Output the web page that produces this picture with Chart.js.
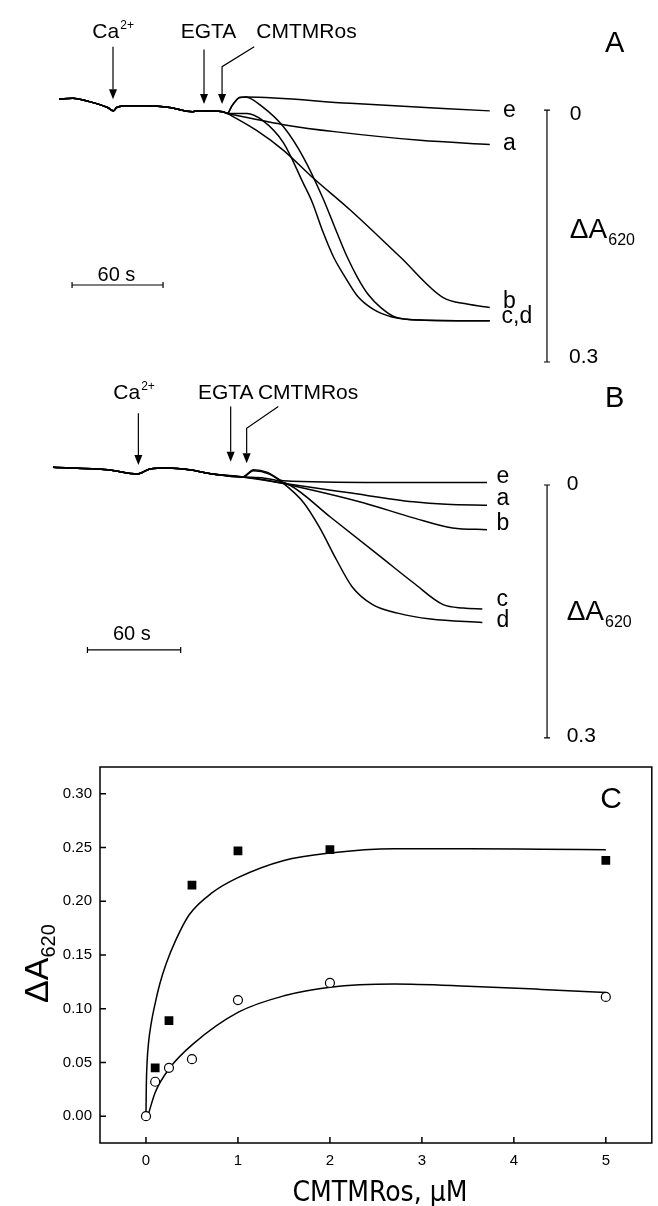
<!DOCTYPE html>
<html>
<head>
<meta charset="utf-8">
<script src="https://cdn.jsdelivr.net/npm/chart.js@4/dist/chart.umd.min.js"></script>
<style>
  html, body { margin: 0; padding: 0; background: #fff; }
  body { width: 658px; height: 1206px; position: relative; overflow: hidden; }
  canvas { position: absolute; left: 0; }
  #chart-a { top: 0; }
  #chart-b { top: 370px; }
  #chart-c { top: 750px; }
</style>
</head>
<body>
<canvas id="chart-a" width="658" height="370"></canvas>
<canvas id="chart-b" width="658" height="380"></canvas>
<canvas id="chart-c" width="658" height="456"></canvas>
<script>
// ===== DATA =====
// Panel A traces: time (s), change in A620 (0 = top of the scale bar, positive = down)
const A_BASE_T = [0, 9, 20, 32, 36, 38, 45, 58, 73, 88, 92, 108, 111];
const A_BASE = [-0.013, -0.014, -0.010, -0.003, 0.001, -0.003, -0.005, -0.005, -0.003, 0.002, 0.001, 0.002, 0.004];
const A_E_T = [114, 117, 119, 123, 192, 284];
const A_E = [-0.005, -0.012, -0.015, -0.0155, -0.008, 0.001];
const A_A_T = [116, 150, 183, 238, 284];
const A_A = [0.006, 0.018, 0.026, 0.036, 0.041];
const A_B_T = [113, 130, 148, 167, 192, 225, 253, 269, 284];
const A_B = [0.006, 0.024, 0.048, 0.080, 0.119, 0.175, 0.223, 0.231, 0.235];
const A_C_T = [113, 124, 134, 148, 161, 167, 174, 181, 189, 197, 207, 219, 238, 284];
const A_C = [0.004, 0.004, 0.012, 0.039, 0.087, 0.110, 0.145, 0.175, 0.200, 0.222, 0.237, 0.246, 0.250, 0.251];
const A_D_T = [114, 117, 119, 123, 134, 148, 161, 174, 183, 190, 197, 204, 212, 221, 238, 284];
const A_D = [-0.005, -0.012, -0.015, -0.0155, -0.004, 0.020, 0.056, 0.105, 0.145, 0.175, 0.200, 0.220, 0.235, 0.246, 0.250, 0.251];

// Panel B traces
const B_BASE_T = [0, 35, 54, 62, 73, 87, 102, 121];
const B_BASE = [-0.021, -0.018, -0.013, -0.019, -0.020, -0.018, -0.013, -0.0095];
const B_E_T = [128, 137, 147, 209, 277];
const B_E = [-0.018, -0.015, -0.005, -0.003, -0.003];
const B_A_T = [147, 188, 230, 251, 277];
const B_A = [-0.002, 0.009, 0.020, 0.023, 0.024];
const B_B_T = [132, 156, 198, 230, 255, 277];
const B_B = [-0.007, 0.002, 0.021, 0.039, 0.051, 0.053];
const B_C_T = [135, 151, 177, 209, 230, 249, 262, 274];
const B_C = [-0.008, 0.000, 0.038, 0.085, 0.116, 0.142, 0.146, 0.147];
const B_D_T = [128, 138, 147, 160, 170, 181, 191, 204, 220, 241, 274];
const B_D = [-0.017, -0.013, -0.002, 0.021, 0.050, 0.089, 0.121, 0.142, 0.152, 0.159, 0.163];

// Panel C: dose response
const C_CONC = [0, 0.1, 0.25, 0.5, 1, 2, 5];
const C_FILLED = [null, 0.045, 0.089, 0.215, 0.247, 0.248, 0.238];
const C_OPEN = [0, 0.032, 0.045, 0.053, 0.108, 0.124, 0.111];
const C_FIT_HI_X = [0, 0.003, 0.012, 0.03, 0.06, 0.1, 0.15, 0.22, 0.33, 0.47, 0.72, 1.0, 1.5, 2.0, 2.7, 3.5, 4.3, 5.0];
const C_FIT_HI = [0, 0.025, 0.05, 0.07, 0.088, 0.105, 0.123, 0.142, 0.165, 0.1875, 0.208, 0.222, 0.238, 0.245, 0.249, 0.249, 0.2485, 0.248];
const C_FIT_LO_X = [0.02, 0.1, 0.26, 0.51, 1.01, 1.5, 2.0, 2.7, 3.5, 4.3, 5.0];
const C_FIT_LO = [0, 0.022, 0.045, 0.067, 0.097, 0.112, 0.12, 0.123, 0.121, 0.118, 0.115];
const C_XTICKS = [0, 1, 2, 3, 4, 5];
const C_YTICKS = [0, 0.05, 0.10, 0.15, 0.20, 0.25, 0.30];

// ===== HELPERS =====
const FONT = '"Liberation Sans", Arial, sans-serif';
const NARROW = '"Liberation Sans Narrow", "DejaVu Sans Condensed", "Liberation Sans", Arial, sans-serif';
const pts = (xs, ys) => xs.map((x, i) => ({ x, y: ys[i] }));
const join = (bt, b, t, v) => pts(bt, b).concat(pts(t, v));

function drawArrow(ctx, path) {
  const n = path.length;
  const [tx, ty] = path[n - 1];
  const [px, py] = path[n - 2];
  const ang = Math.atan2(ty - py, tx - px);
  const len = 10, half = 4;
  const bx = tx - len * Math.cos(ang), by = ty - len * Math.sin(ang);
  ctx.beginPath();
  ctx.moveTo(path[0][0], path[0][1]);
  for (let i = 1; i < n - 1; i++) ctx.lineTo(path[i][0], path[i][1]);
  ctx.lineTo(bx, by);
  ctx.stroke();
  ctx.beginPath();
  ctx.moveTo(tx, ty);
  ctx.lineTo(bx - half * Math.sin(ang), by + half * Math.cos(ang));
  ctx.lineTo(bx + half * Math.sin(ang), by - half * Math.cos(ang));
  ctx.closePath();
  ctx.fill();
}

function drawLabel(ctx, x, y, l) {
  ctx.textBaseline = 'alphabetic';
  ctx.textAlign = 'left';
  ctx.font = `${l.size}px ${l.font || FONT}`;
  const w = ctx.measureText(l.text).width;
  ctx.fillText(l.text, x, y);
  const small = l.sup || l.sub;
  if (small) {
    ctx.font = `${l.small}px ${l.font || FONT}`;
    ctx.fillText(small, x + w + 1, y + (l.sup ? -l.size * 0.45 : l.size * 0.25));
  }
}

function drawNotes(chart, n) {
  const { ctx } = chart;
  const X = v => chart.scales.x.getPixelForValue(v);
  const Y = v => chart.scales.y.getPixelForValue(v);
  ctx.save();
  ctx.strokeStyle = '#000';
  ctx.fillStyle = '#000';
  ctx.lineWidth = 1.2;
  n.arrows.forEach(a => drawArrow(ctx, a.map(([t, v]) => [X(t), Y(v)])));
  // absorbance scale bar
  const sx = X(n.scaleBar.t), s0 = Y(0), s1 = Y(0.3);
  ctx.beginPath();
  ctx.moveTo(sx, s0); ctx.lineTo(sx, s1);
  ctx.moveTo(sx - 3, s0); ctx.lineTo(sx + 3, s0);
  ctx.moveTo(sx - 3, s1); ctx.lineTo(sx + 3, s1);
  ctx.stroke();
  // time bar
  const tb = n.timeBar, ty = Y(tb.v), t0 = X(tb.from), t1 = X(tb.to);
  ctx.beginPath();
  ctx.moveTo(t0, ty); ctx.lineTo(t1, ty);
  ctx.moveTo(t0, ty - 3); ctx.lineTo(t0, ty + 3);
  ctx.moveTo(t1, ty - 3); ctx.lineTo(t1, ty + 3);
  ctx.stroke();
  n.labels.forEach(l => drawLabel(ctx, X(l.t), Y(l.v), l));
  ctx.restore();
}

function traceChart(id, xRange, yRange, traces, notes) {
  return new Chart(document.getElementById(id), {
    type: 'scatter',
    data: {
      datasets: traces.map(tr => ({
        data: tr, showLine: true, borderColor: '#000', borderWidth: 1.5,
        pointRadius: 0, cubicInterpolationMode: 'monotone'
      }))
    },
    options: {
      responsive: false, animation: false, events: [],
      layout: { padding: 0 },
      plugins: { legend: { display: false }, tooltip: { enabled: false } },
      scales: {
        x: { type: 'linear', display: false, min: xRange[0], max: xRange[1] },
        y: { type: 'linear', display: false, reverse: true, min: yRange[0], max: yRange[1] }
      }
    },
    plugins: [{ id: 'notes', afterDraw: c => drawNotes(c, notes) }]
  });
}

// ===== PANEL A =====
traceChart('chart-a', [-38.9, 394.9], [-0.131, 0.3095], [
  join(A_BASE_T, A_BASE, A_E_T, A_E),
  join(A_BASE_T, A_BASE, A_A_T, A_A),
  join(A_BASE_T, A_BASE, A_B_T, A_B),
  join(A_BASE_T, A_BASE, A_C_T, A_C),
  join(A_BASE_T, A_BASE, A_D_T, A_D)
], {
  arrows: [
    [[35.6, -0.0754], [35.6, -0.0127]],
    [[95.6, -0.0722], [95.6, -0.0071]],
    [[128.7, -0.0754], [107.5, -0.0516], [107.5, -0.0071]]
  ],
  scaleBar: { t: 321.7 },
  timeBar: { from: 8.6, to: 68.6, v: 0.2083 },
  labels: [
    { text: 'Ca', sup: '2+', t: 22, v: -0.0853, size: 21, small: 12 },
    { text: 'EGTA', t: 80.2, v: -0.0853, size: 21 },
    { text: 'CMTMRos', t: 130.1, v: -0.0853, size: 21 },
    { text: 'A', t: 360, v: -0.0694, size: 29 },
    { text: 'e', t: 292.7, v: 0.0087, size: 23 },
    { text: 'a', t: 292.7, v: 0.0476, size: 23 },
    { text: 'b', t: 292.7, v: 0.2357, size: 23 },
    { text: 'c,d', t: 291.8, v: 0.2536, size: 23 },
    { text: '0', t: 336.8, v: 0.0119, size: 21 },
    { text: '0.3', t: 336.2, v: 0.301, size: 21 },
    { text: '\u0394A', sub: '620', t: 336.8, v: 0.152, size: 28, small: 16 },
    { text: '60 s', t: 25.4, v: 0.2036, size: 20 }
  ]
});

// ===== PANEL B =====
traceChart('chart-b', [-33.8, 386.1], [-0.1364, 0.3144], [
  join(B_BASE_T, B_BASE, B_E_T, B_E),
  join(B_BASE_T, B_BASE, B_A_T, B_A),
  join(B_BASE_T, B_BASE, B_B_T, B_B),
  join(B_BASE_T, B_BASE, B_C_T, B_C),
  join(B_BASE_T, B_BASE, B_D_T, B_D)
], {
  arrows: [
    [[54.5, -0.085], [54.5, -0.0237]],
    [[113.4, -0.093], [113.4, -0.0277]],
    [[143.8, -0.093], [123.6, -0.0672], [123.6, -0.0257]]
  ],
  scaleBar: { t: 315.3 },
  timeBar: { from: 22, to: 81.5, v: 0.1957 },
  labels: [
    { text: 'Ca', sup: '2+', t: 38.5, v: -0.1017, size: 21, small: 12 },
    { text: 'EGTA', t: 92.5, v: -0.1017, size: 21 },
    { text: 'CMTMRos', t: 130.8, v: -0.1017, size: 21 },
    { text: 'B', t: 352.3, v: -0.093, size: 29 },
    { text: 'e', t: 283.1, v: -0.002, size: 23 },
    { text: 'a', t: 283.1, v: 0.0237, size: 23 },
    { text: 'b', t: 283.1, v: 0.0534, size: 23 },
    { text: 'c', t: 283.1, v: 0.144, size: 23 },
    { text: 'd', t: 283.1, v: 0.168, size: 23 },
    { text: '0', t: 327.8, v: 0.006, size: 21 },
    { text: '0.3', t: 327.8, v: 0.3045, size: 21 },
    { text: '\u0394A', sub: '620', t: 327.8, v: 0.160, size: 28, small: 16 },
    { text: '60 s', t: 38.3, v: 0.184, size: 20 }
  ]
});

// ===== PANEL C =====
const framePlugin = {
  id: 'frame',
  afterDraw(chart) {
    const { ctx, chartArea: a, scales } = chart;
    ctx.save();
    ctx.strokeStyle = '#000';
    ctx.lineWidth = 1.5;
    ctx.strokeRect(a.left, a.top, a.right - a.left, a.bottom - a.top);
    ctx.beginPath();
    C_XTICKS.forEach(v => {
      const x = scales.x.getPixelForValue(v);
      ctx.moveTo(x, a.bottom); ctx.lineTo(x, a.bottom - 6);
    });
    C_YTICKS.forEach(v => {
      const y = scales.y.getPixelForValue(v);
      ctx.moveTo(a.left, y); ctx.lineTo(a.left + 6, y);
    });
    ctx.stroke();
    ctx.fillStyle = '#000';
    // panel letter
    ctx.font = `30px ${FONT}`;
    ctx.fillText('C', scales.x.getPixelForValue(4.94), scales.y.getPixelForValue(0.287));
    // x title
    ctx.font = `28px ${NARROW}`;
    ctx.textAlign = 'center';
    ctx.fillText('CMTMRos, \u00b5M', 380, 451);
    // y title, rotated
    ctx.translate(48, 253);
    ctx.rotate(-Math.PI / 2);
    ctx.textAlign = 'left';
    ctx.font = `34px ${FONT}`;
    const w = ctx.measureText('\u0394A').width;
    ctx.fillText('\u0394A', 0, 0);
    ctx.font = `20px ${FONT}`;
    ctx.fillText('620', w, 7);
    ctx.restore();
  }
};

new Chart(document.getElementById('chart-c'), {
  type: 'scatter',
  data: {
    datasets: [
      { data: pts(C_CONC, C_FILLED), pointStyle: 'rect', pointRadius: 6.2, backgroundColor: '#000', borderWidth: 0 },
      { data: pts(C_CONC, C_OPEN), pointStyle: 'circle', pointRadius: 4.5, backgroundColor: '#fff', borderColor: '#000', borderWidth: 1.2 },
      { data: pts(C_FIT_HI_X, C_FIT_HI), showLine: true, pointRadius: 0, borderColor: '#000', borderWidth: 1.5, cubicInterpolationMode: 'monotone' },
      { data: pts(C_FIT_LO_X, C_FIT_LO), showLine: true, pointRadius: 0, borderColor: '#000', borderWidth: 1.5, cubicInterpolationMode: 'monotone' }
    ]
  },
  options: {
    responsive: false, animation: false, events: [],
    layout: { padding: { top: 10, right: 1, left: 0, bottom: 0 } },
    plugins: { legend: { display: false }, tooltip: { enabled: false } },
    scales: {
      x: {
        type: 'linear', min: -0.5, max: 5.5,
        grid: { display: false, drawTicks: false }, border: { display: false },
        afterBuildTicks: s => { s.ticks = C_XTICKS.map(value => ({ value })); },
        afterFit: s => { s.height = 63; },
        ticks: { color: '#000', padding: 9, font: { family: FONT, size: 15 }, callback: v => String(v) }
      },
      y: {
        type: 'linear', min: -0.025, max: 0.325,
        grid: { display: false, drawTicks: false }, border: { display: false },
        afterBuildTicks: s => { s.ticks = C_YTICKS.map(value => ({ value })); },
        afterFit: s => { s.width = 100; },
        ticks: { color: '#000', padding: 8, font: { family: FONT, size: 15 }, callback: v => v.toFixed(2) }
      }
    }
  },
  plugins: [framePlugin]
});
</script>
</body>
</html>
